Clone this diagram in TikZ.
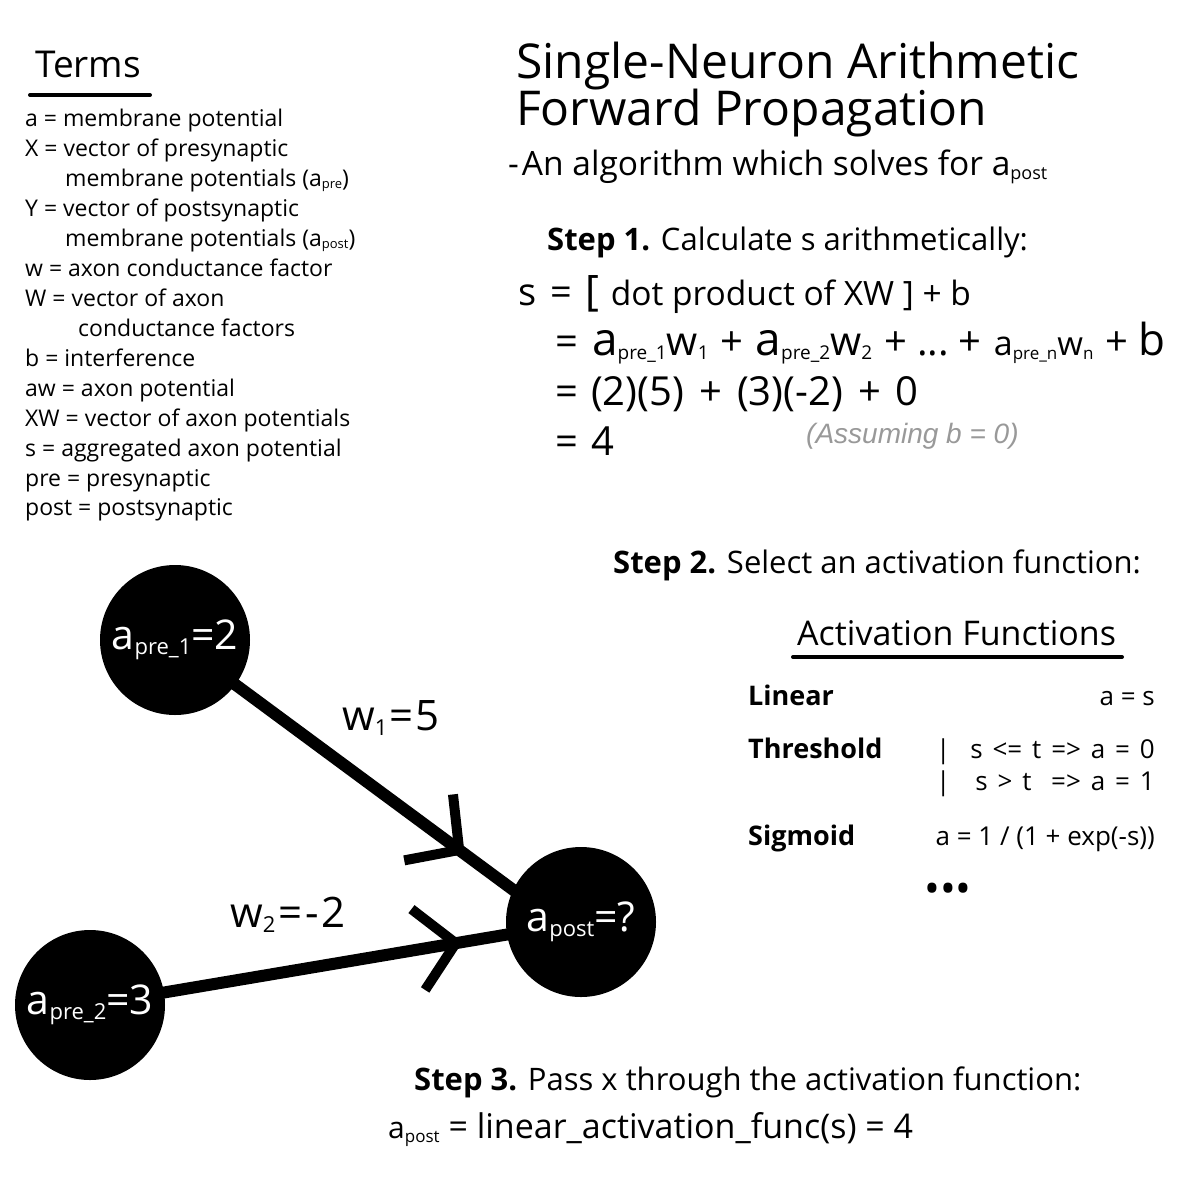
\documentclass[tikz,border=0pt]{standalone}
\usepackage{fontspec}
\setmainfont{Open Sans}
\newfontfamily\notefont{Liberation Sans}
\usetikzlibrary{decorations.markings,backgrounds}
\newcommand\fs[1]{\fontsize{#1}{#1}\selectfont}
\newcommand\lsub[2]{\raisebox{-0.12em}{{\fs{#1}#2}}}
\newcommand\wsp{\spaceskip=0.38em plus 0.1em\relax}
\begin{document}
\begin{tikzpicture}[x=1pt,y=-1pt,
  txt/.style={inner sep=0pt, anchor=base west, font=\fs{23}},
  rtxt/.style={inner sep=0pt, anchor=base east, font=\fs{26}},
  lbl/.style={inner sep=0pt, anchor=base west, font=\bfseries\fs{27}},
  neuron/.style={circle, fill=black, minimum size=150pt, inner sep=0pt, text=white, font=\fs{41}},
  uline/.style={line width=4pt, line cap=round},
  edge/.style={line width=12pt},
  chev/.style={postaction={decorate}, decoration={markings,
     mark=at position #1 with {\draw[line width=10pt, line cap=butt, line join=miter] (-38,-41) -- (0,0) -- (-38,41);}}}]
\begin{pgfonlayer}{background}
\fill[white] (0,0) rectangle (1200,1200);
\end{pgfonlayer}
\useasboundingbox (0,0) rectangle (1200,1200);

% Terms
\node[txt, font=\fs{37}] (terms) at (35,77) {Terms};
\draw[uline] (30,95) -- (150,95);
\node[txt] (t1) at (25,126) {a = membrane potential};
\node[txt] (t2) at (25,156) {X = vector of presynaptic};
\node[txt] (t3) at (65,186) {membrane potentials (a\lsub{13}{pre})};
\node[txt] (t4) at (25,216) {Y = vector of postsynaptic};
\node[txt] (t5) at (65,246) {membrane potentials (a\lsub{13}{post})};
\node[txt] (t6) at (25,276) {w = axon conductance factor};
\node[txt] (t7) at (25,306) {W = vector of axon};
\node[txt] (t8) at (78,336) {conductance factors};
\node[txt] (t9) at (25,366) {b = interference};
\node[txt] (t10) at (25,396) {aw = axon potential};
\node[txt] (t11) at (25,426) {XW = vector of axon potentials};
\node[txt] (t12) at (25,456) {s = aggregated axon potential};
\node[txt] (t13) at (25,486) {pre = presynaptic};
\node[txt] (t14) at (25,515) {post = postsynaptic};

% Title
\node[txt, font=\fs{48}] (title1) at (516,78) {Single-Neuron Arithmetic};
\node[txt, font=\fs{48}] (title2) at (516,125) {Forward Propagation};
\node[txt, font=\fs{33.5}] (sub) at (508,175) {-\kern3pt An algorithm which solves for a\lsub{18}{post}};

% Step 1
\node[txt, font=\fs{31}] (s1) at (547,250) {\textbf{Step 1.} Calculate s arithmetically:};
\node[txt, font=\fs{38}] (e1s) at (518,305) {s\kern14pt=\kern13pt{\fs{42}[}\kern12pt{\fs{33.5}dot product of XW ] + b}};
\node[txt, font=\fs{40}] (e2) at (555,355) {=\kern14pt{\fs{46}a}\lsub{19}{pre\_1}{\fs{40}w}\lsub{19}{1}\kern12pt+\kern12pt{\fs{46}a}\lsub{19}{pre\_2}{\fs{40}w}\lsub{19}{2}\kern12pt+\kern10pt...\kern10pt+\kern12pt{\fs{34}a}\lsub{17}{pre\_n}{\fs{33}w}\lsub{17}{n}\kern12pt+\kern10pt{\fs{44}b}};
\node[txt, font=\fs{40}] (e3) at (555,405) {=\kern13pt(2)(5)\kern15pt+\kern15pt(3)(-2)\kern15pt+\kern15pt0};
\node[txt, font=\fs{40}] (e4) at (555,455) {=\kern13pt4};
\node[txt, font=\notefont\itshape\fs{28}, text=black!40] (note) at (806,443) {(Assuming b = 0)};

% Step 2
\node[txt, font=\fs{31}] (s2) at (613,573) {\textbf{Step 2.} Select an activation function:};
\node[txt, font=\fs{34}] (af) at (797,645) {Activation Functions};
\draw[uline] (793,657) -- (1122,657);
\node[lbl] (lin) at (748,705) {Linear};
\node[rtxt] (linf) at (1155,705) {a = s};
\node[lbl] (thr) at (748,758) {Threshold};
\node[txt, font=\fs{26}] (bar1) at (936,758) {|};
\node[rtxt, font=\fs{26}\wsp] (thr1) at (1155,758) {s <= t => a = 0};
\node[txt, font=\fs{26}] (bar2) at (936,790) {|};
\node[rtxt, font=\fs{26}\wsp] (thr2) at (1155,790) {s > t \ => a = 1};
\node[lbl] (sig) at (748,845) {Sigmoid};
\node[rtxt] (sigf) at (1155,845) {a = 1 / (1 + exp(-s))};
\node[inner sep=0pt, font=\fs{42}] (dots) at (948,893) {•\kern0pt•\kern0pt•};

% Network
\node[neuron] (pre1) at (175,640) {a\lsub{22}{pre\_1}=2};
\node[neuron] (pre2) at (90,1005) {a\lsub{22}{pre\_2}=3};
\node[neuron] (post) at (581,922) {a\lsub{22}{post}=?};
\begin{pgfonlayer}{background}
\draw[edge, chev=0.70] (pre1.center) -- ([yshift=-18pt]post.center);
\draw[edge, chev=0.745] (pre2.center) -- (post.center);
\end{pgfonlayer}
\node[txt, font=\fs{42}] (w1) at (342,730) {w\lsub{22}{1}\kern2pt=\kern2pt5};
\node[txt, font=\fs{42}] (w2) at (230,927) {w\lsub{22}{2}\kern3pt=\kern3pt-\kern3pt2};

% Step 3
\node[txt, font=\fs{31}] (s3) at (414,1090) {\textbf{Step 3.} Pass x through the activation function:};
\node[txt, font=\fs{34}] (res) at (388,1138) {{\fs{30}a}\lsub{17}{post} = linear\_activation\_func(s) = 4};
\end{tikzpicture}
\end{document}
